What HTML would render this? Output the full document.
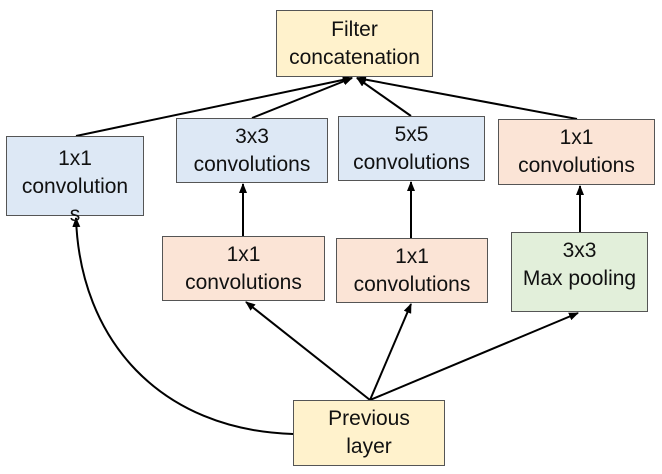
<!DOCTYPE html>
<html><head><style>
body{margin:0;width:662px;height:474px;background:#fff;position:relative;overflow:hidden;font-family:"Liberation Sans",sans-serif}
.b{position:absolute;box-sizing:border-box;border:1.5px solid #555;display:flex;flex-direction:column;justify-content:center;align-items:center;text-align:center;font-size:21px;line-height:28px;color:#111;white-space:nowrap}
.y{background:#fff2cc}.bl{background:#dde8f5}.o{background:#fbe4d6}.g{background:#e2efda}
svg{position:absolute;left:0;top:0}
</style></head><body>
<svg width="662" height="474">
<defs><marker id="a" markerWidth="10" markerHeight="8" refX="9" refY="4" orient="auto" markerUnits="userSpaceOnUse"><path d="M0,0 L10,4 L0,8 z" fill="#000"/></marker></defs>
<g stroke="#000" stroke-width="2" fill="none">
<line x1="76" y1="136" x2="352" y2="78" marker-end="url(#a)"/>
<line x1="252" y1="118" x2="352" y2="78" marker-end="url(#a)"/>
<line x1="411" y1="116" x2="357" y2="78" marker-end="url(#a)"/>
<line x1="577" y1="119" x2="357" y2="78" marker-end="url(#a)"/>
<line x1="243" y1="236" x2="243" y2="184" marker-end="url(#a)"/>
<line x1="411" y1="238" x2="411" y2="182" marker-end="url(#a)"/>
<line x1="580" y1="232" x2="580" y2="186" marker-end="url(#a)"/>
<line x1="370" y1="400" x2="246" y2="302" marker-end="url(#a)"/>
<line x1="370" y1="400" x2="411" y2="304" marker-end="url(#a)"/>
<line x1="370" y1="400" x2="578" y2="313" marker-end="url(#a)"/>
<path d="M293,434 C160,430 80,340 76,218" marker-end="url(#a)"/>
</g></svg>
<div class="b y" style="left:276px;top:10px;width:157px;height:67px">Filter<br>concatenation</div>
<div class="b bl" style="left:6px;top:136px;width:138px;height:80px;justify-content:flex-start;padding-top:8px">1x1<br>convolution<br>s</div>
<div class="b bl" style="left:176px;top:118px;width:152px;height:65px">3x3<br>convolutions</div>
<div class="b bl" style="left:338px;top:116px;width:147px;height:65px">5x5<br>convolutions</div>
<div class="b o" style="left:498px;top:119px;width:157px;height:66px">1x1<br>convolutions</div>
<div class="b o" style="left:162px;top:236px;width:163px;height:65px">1x1<br>convolutions</div>
<div class="b o" style="left:336px;top:238px;width:152px;height:65px">1x1<br>convolutions</div>
<div class="b g" style="left:511px;top:232px;width:137px;height:80px;justify-content:flex-start;padding-top:4px">3x3<br>Max pooling</div>
<div class="b y" style="left:293px;top:400px;width:152px;height:66px">Previous<br>layer</div>
</body></html>
